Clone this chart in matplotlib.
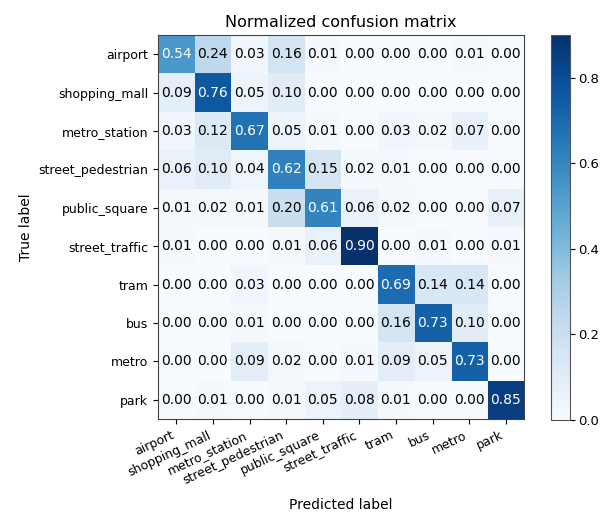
import numpy as np
import matplotlib
matplotlib.use("Agg")
import matplotlib.pyplot as plt

classes = ["airport", "shopping_mall", "metro_station", "street_pedestrian",
           "public_square", "street_traffic", "tram", "bus", "metro", "park"]

row_airport = [0.54, 0.24, 0.03, 0.16, 0.01, 0.00, 0.00, 0.00, 0.01, 0.00]
row_shopping_mall = [0.09, 0.76, 0.05, 0.10, 0.00, 0.00, 0.00, 0.00, 0.00, 0.00]
row_metro_station = [0.03, 0.12, 0.67, 0.05, 0.01, 0.00, 0.03, 0.02, 0.07, 0.00]
row_street_pedestrian = [0.06, 0.10, 0.04, 0.62, 0.15, 0.02, 0.01, 0.00, 0.00, 0.00]
row_public_square = [0.01, 0.02, 0.01, 0.20, 0.61, 0.06, 0.02, 0.00, 0.00, 0.07]
row_street_traffic = [0.01, 0.00, 0.00, 0.01, 0.06, 0.90, 0.00, 0.01, 0.00, 0.01]
row_tram = [0.00, 0.00, 0.03, 0.00, 0.00, 0.00, 0.69, 0.14, 0.14, 0.00]
row_bus = [0.00, 0.00, 0.01, 0.00, 0.00, 0.00, 0.16, 0.73, 0.10, 0.00]
row_metro = [0.00, 0.00, 0.09, 0.02, 0.00, 0.01, 0.09, 0.05, 0.73, 0.00]
row_park = [0.00, 0.01, 0.00, 0.01, 0.05, 0.08, 0.01, 0.00, 0.00, 0.85]

cbar_ticks = [0.0, 0.2, 0.4, 0.6, 0.8]

cm = np.array([row_airport, row_shopping_mall, row_metro_station, row_street_pedestrian,
               row_public_square, row_street_traffic, row_tram, row_bus, row_metro, row_park])

fig = plt.figure(figsize=(6.08, 5.12), dpi=100)
ax = fig.add_axes([0.2599, 0.1816, 0.602, 0.75])
cax = fig.add_axes([0.9063, 0.1797, 0.031, 0.752])

im = ax.imshow(cm, interpolation="nearest", cmap=plt.cm.Blues, aspect="auto")
cb = fig.colorbar(im, cax=cax, ticks=cbar_ticks)
cb.ax.tick_params(labelsize=9.5, pad=2.5)
cb.outline.set_edgecolor("#555555")
for s in ax.spines.values():
    s.set_edgecolor("#444444")
ax.set_title("Normalized confusion matrix", fontsize=11.5)
ticks = np.arange(len(classes))
ax.set_xticks(ticks)
ax.set_xticklabels(classes, rotation=25, ha="right", fontsize=9)
ax.set_yticks(ticks)
ax.set_yticklabels(classes, fontsize=9)

thresh = cm.max() / 2.0
for i in range(cm.shape[0]):
    for j in range(cm.shape[1]):
        ax.text(j, i, format(cm[i, j], ".2f"), ha="center", va="center", fontsize=10,
                color="white" if cm[i, j] > thresh else "black")

ax.set_ylabel("True label", fontsize=10)
ax.set_xlabel("Predicted label", fontsize=10, labelpad=8)

fig.savefig("out.png", dpi=100)
